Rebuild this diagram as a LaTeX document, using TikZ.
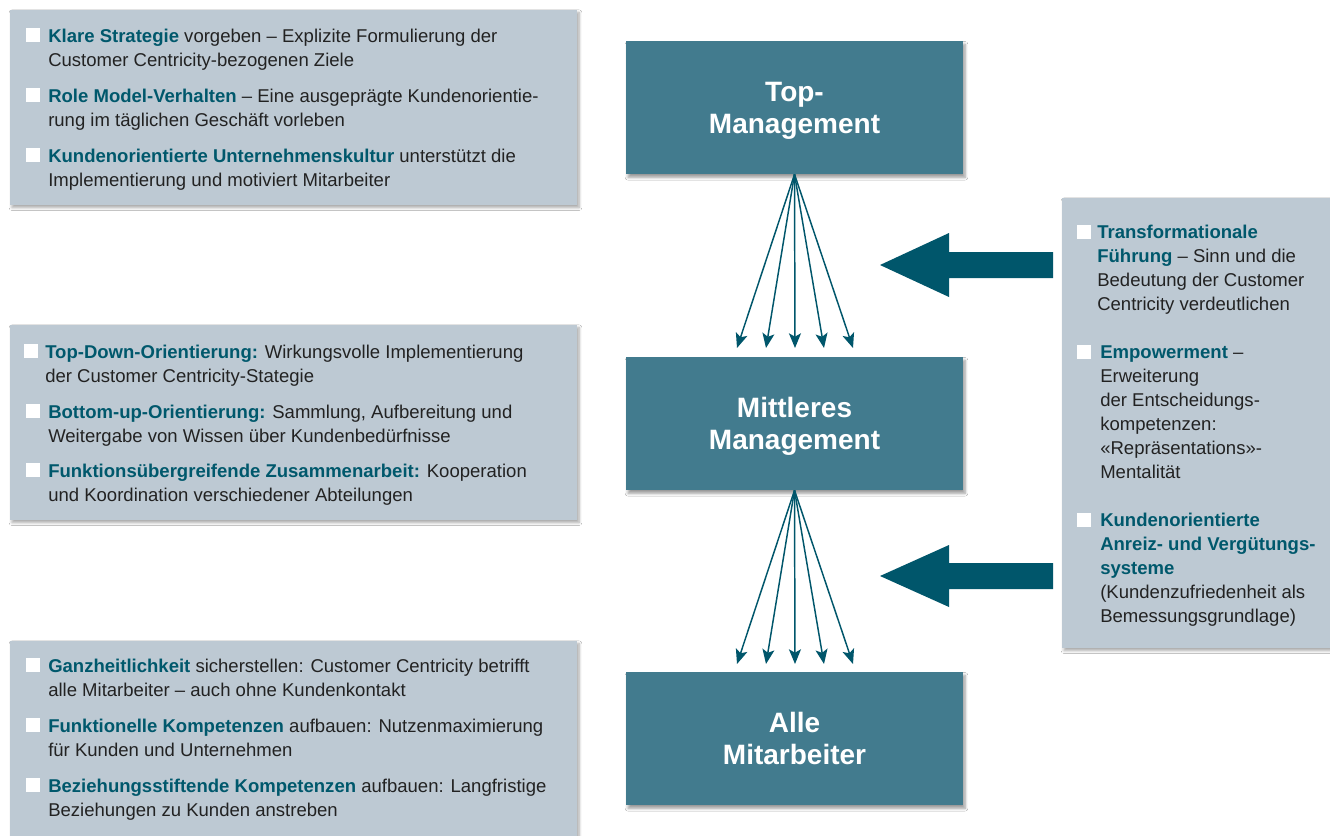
\documentclass[tikz,border=0pt]{standalone}
\usepackage{fontspec}
\setmainfont{Liberation Sans}
\usetikzlibrary{shadows.blur,arrows.meta}
\definecolor{panelc}{HTML}{BDC9D3}
\definecolor{boxc}{HTML}{427B8E}
\definecolor{arrc}{HTML}{00566B}
\definecolor{hl}{HTML}{00586C}
\definecolor{txt}{HTML}{222222}
\newcommand{\hb}[1]{\textbf{\textcolor{hl}{#1}}}
\newcommand{\fl}{\rule{0pt}{12pt}}
\tikzset{
 panel/.style={fill=panelc, blur shadow={shadow xshift=1.5pt, shadow yshift=-2pt, shadow opacity=35, shadow blur steps=6}},
 levelbox/.style={rectangle, fill=boxc, minimum width=252.75pt, minimum height=99.75pt, text=white,
   font=\fontsize{21}{24}\selectfont\bfseries, align=center, inner sep=0pt, text depth=0pt,
   blur shadow={shadow xshift=1.5pt, shadow yshift=-2.5pt, shadow opacity=40, shadow blur steps=6}},
 item/.style={anchor=north west, inner sep=0pt, align=left, text=txt, font=\fontsize{13.9}{18}\selectfont},
 bullet/.style={fill=white, minimum size=10.5pt, inner sep=0pt, anchor=south west},
 fan/.style={draw=arrc, line width=1.1pt, -{Stealth[length=11pt,width=9pt,inset=2.5pt]}},
 blockarrow/.style={fill=arrc},
}
\begin{document}
\begin{tikzpicture}[x=0.75pt,y=-0.75pt]
\useasboundingbox (0,0) rectangle (1330,835);
\fill[white] (0,0) rectangle (1330,835);

% panels
\path[panel] (10,10) rectangle (577,205);
\path[panel] (10,325) rectangle (577,520);
\path[panel] (10,641) rectangle (577,840);
\path[panel] (1062,198) rectangle (1335,648);

% level boxes
\node[levelbox] (top) at (794.5,107.5) {Top-\\Management};
\node[levelbox] (mid) at (794.5,423.5) {Mittleres\\Management};
\node[levelbox] (all) at (794.5,738.5) {Alle\\Mitarbeiter};

% fan arrows
\foreach \i/\x in {1/737,2/766,3/795,4/824,5/853}{
  \coordinate (a\i) at (\x,348);
  \coordinate (b\i) at (\x,664);
  \draw[fan] (top.south) -- (a\i);
  \draw[fan] (mid.south) -- (b\i);
}

% block arrows
\fill[blockarrow] (1053,252) -- (949,252) -- (949,233) -- (880,265) -- (949,297) -- (949,278) -- (1053,278) -- cycle;
\fill[blockarrow] (1053,563) -- (949,563) -- (949,545) -- (880,576) -- (949,607) -- (949,589) -- (1053,589) -- cycle;

% top-left panel
\node[bullet] (q11) at (26,42) {};
\node[item] (t11) at (48,26) {\fl\hb{Klare Strategie} vorgeben – Explizite Formulierung der\\Customer Centricity-bezogenen Ziele};
\node[bullet] (q12) at (26,102) {};
\node[item] (t12) at (48,86) {\fl\hb{Role Model-Verhalten} – Eine ausgeprägte Kundenorientie-\\rung im täglichen Geschäft vorleben};
\node[bullet] (q13) at (26,162) {};
\node[item] (t13) at (48,146) {\fl\hb{Kundenorientierte Unternehmenskultur} unterstützt die\\Implementierung und motiviert Mitarbeiter};

% middle-left panel
\node[bullet] (q21) at (24,358) {};
\node[item] (t21) at (45,342) {\fl\hb{Top-Down-Orientierung:} Wirkungsvolle Implementierung\\der Customer Centricity-Stategie};
\node[bullet] (q22) at (26,418) {};
\node[item] (t22) at (48,402) {\fl\hb{Bottom-up-Orientierung:} Sammlung, Aufbereitung und\\Weitergabe von Wissen über Kundenbedürfnisse};
\node[bullet] (q23) at (26,477) {};
\node[item] (t23) at (48,461) {\fl\hb{Funktionsübergreifende Zusammenarbeit:} Kooperation\\und Koordination verschiedener Abteilungen};

% bottom-left panel
\node[bullet] (q31) at (26,672) {};
\node[item] (t31) at (48,656) {\fl\hb{Ganzheitlichkeit} sicherstellen: Customer Centricity betrifft\\alle Mitarbeiter – auch ohne Kundenkontakt};
\node[bullet] (q32) at (26,732) {};
\node[item] (t32) at (48,716) {\fl\hb{Funktionelle Kompetenzen} aufbauen: Nutzenmaximierung\\für Kunden und Unternehmen};
\node[bullet] (q33) at (26,792) {};
\node[item] (t33) at (48,776) {\fl\hb{Beziehungsstiftende Kompetenzen} aufbauen: Langfristige\\Beziehungen zu Kunden anstreben};

% right panel
\node[bullet] (q41) at (1077,239) {};
\node[item] (t41) at (1097,222) {\fl\hb{Transformationale}\\\hb{Führung} – Sinn und die\\Bedeutung der Customer\\Centricity verdeutlichen};
\node[bullet] (q42) at (1077,359) {};
\node[item] (t42) at (1100,342) {\fl\hb{Empowerment} –\\Erweiterung\\der Entscheidungs-\\kompetenzen:\\«Repräsentations»-\\Mentalität};
\node[bullet] (q43) at (1077,527) {};
\node[item] (t43) at (1100,510) {\fl\hb{Kundenorientierte}\\\hb{Anreiz- und Vergütungs-}\\\hb{systeme}\\(Kundenzufriedenheit als\\Bemessungsgrundlage)};
\end{tikzpicture}
\end{document}
